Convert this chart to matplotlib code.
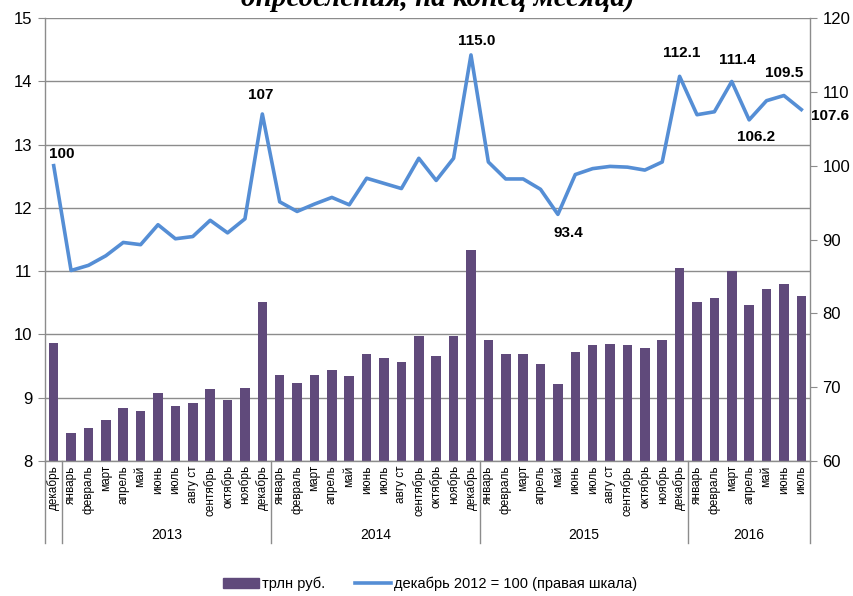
import matplotlib
matplotlib.use("Agg")
import matplotlib.pyplot as plt
import matplotlib.transforms as mtransforms
from matplotlib.patches import Patch
from matplotlib.lines import Line2D

plt.rcParams['font.family'] = ['Liberation Sans', 'DejaVu Sans']

# data
months = ['декабрь',
          'январь', 'февраль', 'март', 'апрель', 'май', 'июнь', 'июль', 'авгу ст', 'сентябрь', 'октябрь', 'ноябрь', 'декабрь',
          'январь', 'февраль', 'март', 'апрель', 'май', 'июнь', 'июль', 'авгу ст', 'сентябрь', 'октябрь', 'ноябрь', 'декабрь',
          'январь', 'февраль', 'март', 'апрель', 'май', 'июнь', 'июль', 'авгу ст', 'сентябрь', 'октябрь', 'ноябрь', 'декабрь',
          'январь', 'февраль', 'март', 'апрель', 'май', 'июнь', 'июль']
years = ['2013', '2014', '2015', '2016']
year_start = [1, 13, 25, 37]
year_end = [12, 24, 36, 43]

trln = [9.87,
        8.44, 8.52, 8.64, 8.83, 8.79, 9.07, 8.87, 8.91, 9.13, 8.97, 9.15, 10.51,
        9.36, 9.24, 9.36, 9.44, 9.34, 9.69, 9.62, 9.56, 9.97, 9.66, 9.97, 11.33,
        9.91, 9.69, 9.69, 9.54, 9.21, 9.72, 9.83, 9.85, 9.83, 9.79, 9.91, 11.05,
        10.51, 10.57, 11.00, 10.47, 10.71, 10.79, 10.61]

index = [100.0,
         85.8, 86.5, 87.8, 89.6, 89.3, 92.0, 90.1, 90.4, 92.6, 90.9, 92.8, 107.0,
         95.1, 93.8, 94.8, 95.7, 94.7, 98.3, 97.6, 96.9, 101.0, 98.0, 101.0, 115.0,
         100.5, 98.2, 98.2, 96.8, 93.4, 98.8, 99.6, 99.9, 99.8, 99.4, 100.5, 112.1,
         106.9, 107.3, 111.4, 106.2, 108.8, 109.5, 107.6]

# labelled points: index position, text, pixel offset
labels = [(0, '100', 8, 12), (12, '107', -2, 19), (24, '115.0', 6, 14),
          (29, '93.4', 10, -19), (36, '112.1', 2, 23), (39, '111.4', 5, 21),
          (40, '106.2', 7, -17), (42, '109.5', 0, 23), (43, '107.6', 29, -6)]

bar_color = '#604A7B'
line_color = '#558ED5'
grid_color = '#8C8C8C'

fig = plt.figure(figsize=(8.54, 5.96), dpi=100)
ax = fig.add_axes([45/854, 1-461/596, (810-45)/854, (461-18)/596])
x = list(range(len(months)))

ax.bar(x, trln, width=0.55, color=bar_color, zorder=2)
ax.set_ylim(8, 15)
ax.set_xlim(-0.5, len(months) - 0.5)
ax.set_yticks(range(8, 16))
ax.yaxis.grid(True, color=grid_color, linewidth=1.0, zorder=0)
ax.set_axisbelow(True)
ax.tick_params(axis='y', length=5, color=grid_color, labelsize=12, pad=4)
ax.set_xticks(x)
ax.set_xticklabels(months, rotation=90, fontsize=8.5, va='top')
ax.tick_params(axis='x', length=0, pad=3)
for s in ['top', 'right']:
    ax.spines[s].set_visible(False)
for s in ['left', 'bottom']:
    ax.spines[s].set_color(grid_color)
    ax.spines[s].set_linewidth(1.0)

ax2 = ax.twinx()
ax2.plot(x, index, color=line_color, linewidth=2.6, zorder=3)
ax2.set_ylim(60, 120)
ax2.set_yticks(range(60, 121, 10))
ax2.tick_params(axis='y', length=5, color=grid_color, labelsize=12, pad=4)
for s in ['top', 'left', 'bottom']:
    ax2.spines[s].set_visible(False)
ax2.spines['right'].set_color(grid_color)
ax2.spines['right'].set_linewidth(1.0)

for i, txt, dx, dy in labels:
    ax2.annotate(txt, (i, index[i]), xytext=(dx, dy), textcoords='offset pixels',
                 ha='center', va='center', fontsize=11, fontweight='bold', zorder=4)

# group separators and year labels below the axis
trans = mtransforms.blended_transform_factory(ax.transData, ax.transAxes)
low = -(543 - 461) / 443
for sx in [-0.5, 0.5, 12.5, 24.5, 36.5, 43.5]:
    ax.plot([sx, sx], [0, low], color=grid_color, linewidth=1.0,
            transform=trans, clip_on=False)
for yr, a, b in zip(years, year_start, year_end):
    ax.text((a + b) / 2, -(535 - 461) / 443, yr, transform=trans,
            ha='center', va='center', fontsize=10)

# title is cut at the top edge in the reference
fig.text(0.513, 1 - 6/596, 'определения, на конец месяца)', ha='center', va='baseline',
         fontsize=21, fontweight='bold', style='italic', family='Liberation Serif')

handles = [Patch(color=bar_color), Line2D([0], [0], color=line_color, linewidth=2.6)]
fig.legend(handles, ['трлн руб.', 'декабрь 2012 = 100 (правая шкала)'],
           loc='center', bbox_to_anchor=(430/854, 1 - 584/596), ncol=2, frameon=False,
           fontsize=10.5, handlelength=2.5, handletextpad=0.2, columnspacing=2.0)

fig.savefig('out.png', dpi=100)
